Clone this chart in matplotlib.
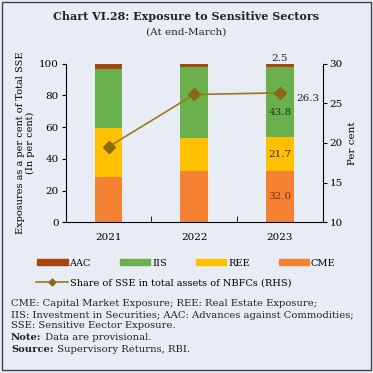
import matplotlib
matplotlib.use("Agg")
import matplotlib.pyplot as plt
from matplotlib.patches import Rectangle, Patch
from matplotlib.lines import Line2D
import numpy as np

years = ["2021", "2022", "2023"]
cme = [28.8, 32.5, 32.0]
ree = [30.7, 20.7, 21.7]
iis = [37.2, 44.5, 43.8]
aac = [3.3, 2.3, 2.5]
share_sse = [19.5, 26.1, 26.3]

BG = "#e8edf5"
C_AAC = "#a5460f"
C_IIS = "#6ab04c"
C_REE = "#ffc000"
C_CME = "#f58233"
C_LINE = "#9a7a1c"
C_MARK = "#8b6914"
SERIF = "DejaVu Serif"

plt.rcParams['font.family'] = SERIF

fig = plt.figure(figsize=(3.73, 3.73), dpi=100, facecolor=BG)
fig.patches.append(Rectangle((0.006, 0.008), 0.988, 0.986, transform=fig.transFigure,
                             fill=False, edgecolor="#444444", linewidth=1.0))

W, H = 373, 373
def ax_rect(l, t, r, b):
    return [l / W, 1 - b / H, (r - l) / W, (b - t) / H]

ax = fig.add_axes(ax_rect(65.7, 63.5, 322.7, 222.3))
ax.set_facecolor(BG)
x = np.arange(len(years))
w = 0.32
b1 = np.array(cme)
b2 = b1 + np.array(ree)
b3 = b2 + np.array(iis)
ax.bar(x, cme, w, color=C_CME)
ax.bar(x, ree, w, bottom=b1, color=C_REE)
ax.bar(x, iis, w, bottom=b2, color=C_IIS)
ax.bar(x, aac, w, bottom=b3, color=C_AAC)
ax.set_xlim(-0.5, 2.5)
ax.set_ylim(0, 100)
ax.set_yticks([0, 20, 40, 60, 80, 100])
ax.set_xticks(x)
ax.set_xticklabels(years)
ax.set_xticks([0.5, 1.5], minor=True)
ax.tick_params(axis='x', which='major', length=0, labelsize=7.5, pad=8)
ax.tick_params(axis='x', which='minor', direction='in', length=4)
ax.tick_params(axis='y', labelsize=7.5, length=3, pad=2)
for s in ["top", "right"]:
    ax.spines[s].set_visible(False)
ax.set_ylabel("Exposures as a per cent of Total SSE\n(In per cent)", fontsize=7, labelpad=3,
              linespacing=1.1)

# data labels 2023
i = 2
ax.text(i, b1[i] / 2, f"{cme[i]:.1f}", ha='center', va='center', fontsize=7.5, color="#7a2a10")
ax.text(i, b1[i] + ree[i] / 2, f"{ree[i]:.1f}", ha='center', va='center', fontsize=7.5, color="#3a2a00")
ax.text(i, b2[i] + iis[i] * 0.35, f"{iis[i]:.1f}", ha='center', va='center', fontsize=7.5, color="#1d3a18")
ax.text(i, b3[i] + aac[i] + 0.3, f"{aac[i]:.1f}", ha='center', va='bottom', fontsize=7.5, color="#222222")

ax2 = ax.twinx()
ax2.plot(x, share_sse, color=C_LINE, linewidth=1.2, marker='D', markersize=6,
         markerfacecolor=C_MARK, markeredgecolor=C_MARK)
ax2.set_ylim(10, 30)
ax2.set_yticks([10, 15, 20, 25, 30])
ax2.tick_params(axis='y', labelsize=7.5, length=3, pad=2)
for s in ["top", "left", "bottom"]:
    ax2.spines[s].set_visible(False)
ax2.set_ylabel("Per cent", fontsize=7.5, labelpad=4)
ax2.annotate(f"{share_sse[2]:.1f}", (x[2], share_sse[2]), xytext=(12, -4),
             textcoords='offset points', ha='left', va='center', fontsize=7.5, color="#222222")

# title
fig.text(0.5, 1 - 17 / H, "Chart VI.28: Exposure to Sensitive Sectors", ha='center', va='center',
         fontsize=8, fontweight='bold', color="#222222")
fig.text(0.5, 1 - 32 / H, "(At end-March)", ha='center', va='center', fontsize=7.5, color="#222222")

# legend
handles = [Patch(color=C_AAC), Patch(color=C_IIS), Patch(color=C_REE), Patch(color=C_CME)]
labels = ["AAC", "IIS", "REE", "CME"]
leg = fig.legend(handles, labels, loc='center', bbox_to_anchor=(0.5, 1 - 263 / H), ncol=4,
                 frameon=False, fontsize=7, handlelength=3.1, handleheight=0.6,
                 handletextpad=0.2, columnspacing=3.0)
line_h = Line2D([0], [0], color=C_LINE, linewidth=1.2, marker='D', markersize=3.5,
                markerfacecolor=C_MARK, markeredgecolor=C_MARK)
fig.legend([line_h], ["Share of SSE in total assets of NBFCs (RHS)"], loc='center left',
           bbox_to_anchor=(27 / W, 1 - 283 / H), frameon=False, fontsize=7, handlelength=3.3,
           handletextpad=0.2)

notes = [
    ("", "CME: Capital Market Exposure; REE: Real Estate Exposure;"),
    ("", "IIS: Investment in Securities; AAC: Advances against Commodities;"),
    ("", "SSE: Sensitive Eector Exposure."),
    ("Note:", " Data are provisional."),
    ("Source:", " Supervisory Returns, RBI."),
]
ys = [303, 315, 326, 338, 349]
FS = 7.2
for (bold, rest), yy in zip(notes, ys):
    if bold:
        t = fig.text(11 / W, 1 - yy / H, bold, ha='left', va='center', fontsize=FS,
                     fontweight='bold', color="#222222")
        fig.canvas.draw()
        bb = t.get_window_extent()
        x1 = bb.x1 / fig.bbox.width
        fig.text(x1, 1 - yy / H, rest, ha='left', va='center', fontsize=FS, color="#222222")
    else:
        fig.text(11 / W, 1 - yy / H, rest, ha='left', va='center', fontsize=FS, color="#222222")

fig.savefig("out.png", dpi=100, facecolor=BG)
